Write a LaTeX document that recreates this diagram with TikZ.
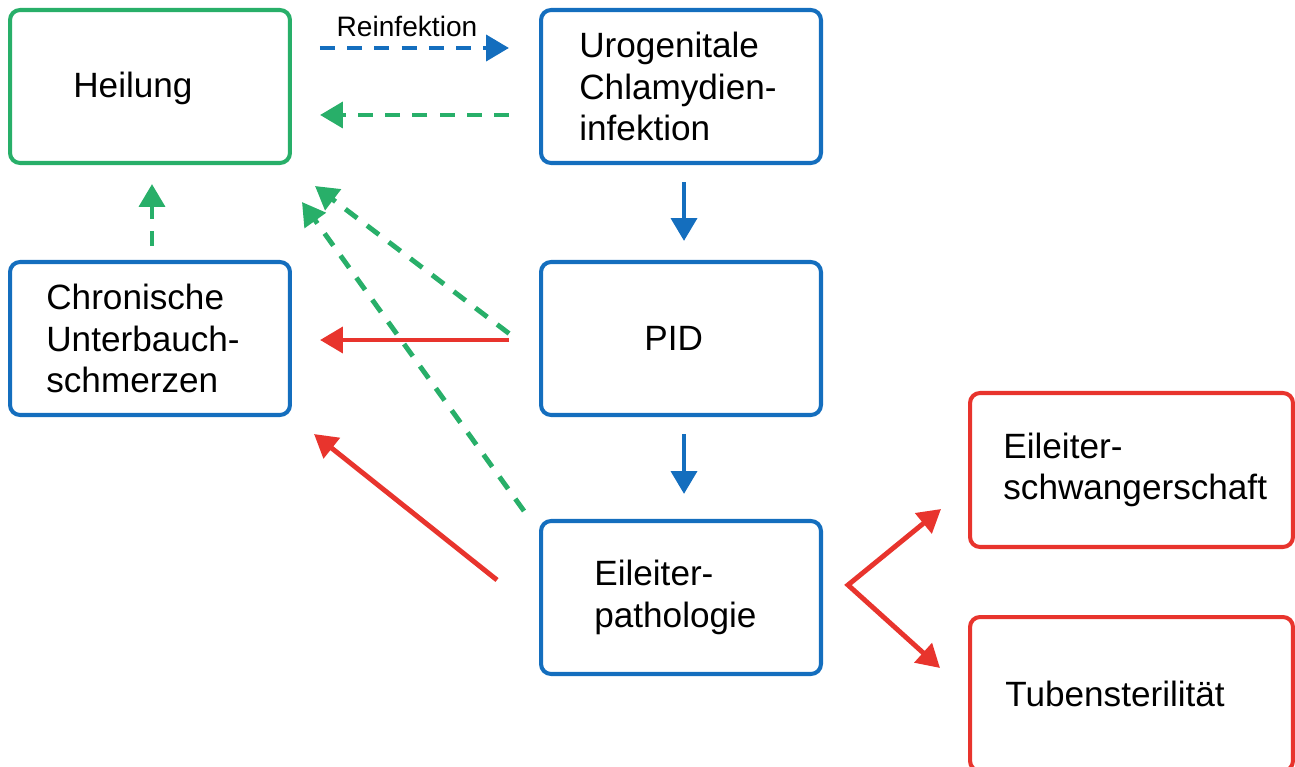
\documentclass[tikz,border=0pt]{standalone}
\usepackage{fontspec}
\setmainfont{Liberation Sans}
\usetikzlibrary{arrows.meta,calc}
\definecolor{cblue}{RGB}{20,110,190}
\definecolor{cgreen}{RGB}{40,175,105}
\definecolor{cred}{RGB}{232,52,45}

\begin{document}
\begin{tikzpicture}[x=0.02cm,y=-0.02cm, >={Triangle[length=13pt,width=14.5pt]},
box/.style={draw=#1,line width=2.3pt,rounded corners=0.2cm,minimum width=5.6cm,minimum height=3.06cm,inner sep=0pt},
txt/.style={anchor=west,align=left,inner sep=0pt,font=\fontsize{20}{23.5}\selectfont},
conn/.style={draw=#1,line width=2.8pt,->}, dashln/.style={dash pattern=on 8.5pt off 7pt}]
\useasboundingbox (0,0) rectangle (1295,767);
% boxes
\node[box=cgreen] (heil) at (150,86.5) {};
\node[box=cblue] (uro) at (681,86.5) {};
\node[box=cblue] (chron) at (150,338.5) {};
\node[box=cblue] (pid) at (681,338.5) {};
\node[box=cblue] (eil) at (681,597.5) {};
\node[box=cred,minimum width=6.46cm,minimum height=3.08cm] (schw) at (1131.5,470) {};
\node[box=cred,minimum width=6.46cm,minimum height=3.08cm] (tub) at (1131.5,694) {};
% texts
\node[txt] (heilt) at ($(heil.west)+(65,2)$) {Heilung};
\node[txt] (urot) at ($(uro.west)+(40,0)$) {Urogenitale\\Chlamydien-\\infektion};
\node[txt] (chront) at ($(chron.west)+(38,0)$) {Chronische\\Unterbauch-\\schmerzen};
\node[txt] (pidt) at ($(pid.west)+(105,0)$) {PID};
\node[txt] (eilt) at ($(eil.west)+(55,0)$) {Eileiter-\\pathologie};
\node[txt] (schwt) at ($(schw.west)+(35,0)$) {Eileiter-\\schwangerschaft};
\node[txt] (tubt) at ($(tub.west)+(37,0)$) {Tubensterilität};
\node[font=\fontsize{16}{18}\selectfont,inner sep=0pt] (reinf) at (407,26) {Reinfektion};
% connectors
\draw[conn=cblue,dashln] ($(heil.north east)+(28,40)$) -- ($(uro.north west)+(-30,40)$);
\draw[conn=cgreen,dashln] ($(uro.north west)+(-30,107)$) -- ($(heil.north east)+(28,107)$);
\draw[conn=cgreen,dashln] ($(chron.north)+(2,-14)$) -- ($(heil.south)+(2,19)$);
\draw[conn=cgreen,dashln] ($(pid.west)+(-30,-5)$) -- ($(heil.south east)+(23,21)$);
\draw[conn=cgreen,dashln] ($(eil.north west)+(-15,-8)$) -- ($(heil.south east)+(10,37)$);
\draw[conn=cred] ($(pid.west)+(-30,1.5)$) -- ($(chron.east)+(28,1.5)$);
\draw[conn=cred] ($(eil.west)+(-42,-17.5)$) -- ($(chron.south east)+(22,17)$);
\draw[conn=cblue] ($(uro.south)+(3,17)$) -- ($(pid.north)+(3,-19)$);
\draw[conn=cblue] ($(pid.south)+(3,17)$) -- ($(eil.north)+(3,-25)$);
\draw[conn=cred,<->] ($(schw.south west)+(-27,-40)$) -- ($(eil.east)+(25,-12.5)$) -- ($(tub.west)+(-28,-26)$);
\end{tikzpicture}
\end{document}
